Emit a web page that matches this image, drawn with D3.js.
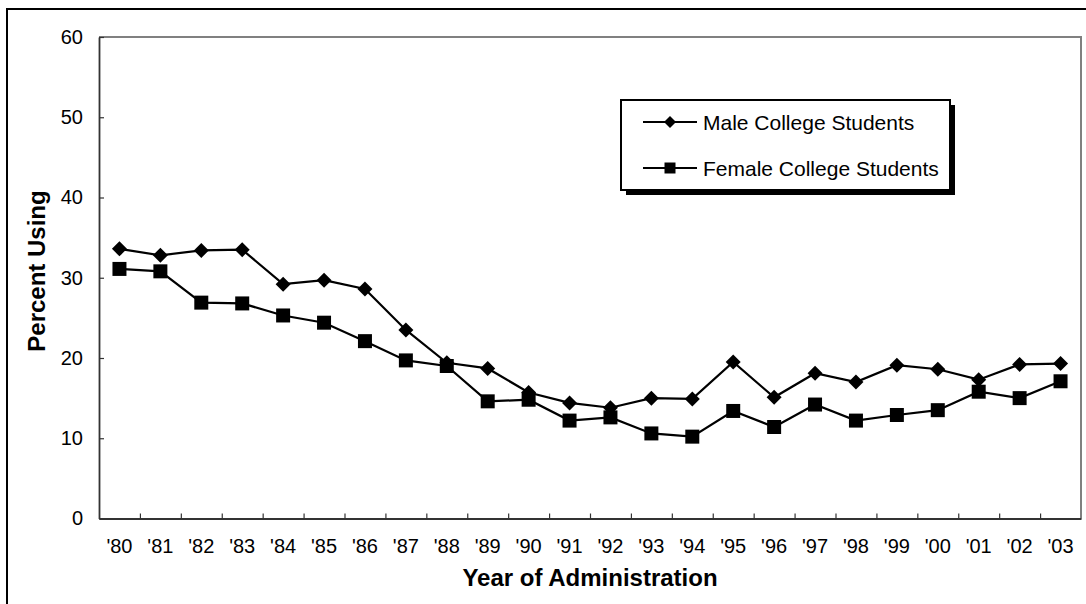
<!DOCTYPE html>
<html>
<head>
<meta charset="utf-8">
<script src="https://cdn.jsdelivr.net/npm/d3@7"></script>
<style>
  html, body { margin: 0; padding: 0; background: #fff; }
  svg { display: block; font-family: "Liberation Sans", Arial, sans-serif; }
</style>
</head>
<body>
<svg id="chart" width="1086" height="604"></svg>
<script>
const years = ["'80","'81","'82","'83","'84","'85","'86","'87","'88","'89","'90","'91","'92","'93","'94","'95","'96","'97","'98","'99","'00","'01","'02","'03"];
const maleValues = [33.6,32.8,33.4,33.5,29.2,29.7,28.6,23.5,19.4,18.7,15.7,14.4,13.8,15.0,14.9,19.5,15.1,18.1,17.0,19.1,18.6,17.3,19.2,19.3];
const femaleValues = [31.1,30.8,26.9,26.8,25.3,24.4,22.1,19.7,19.0,14.6,14.8,12.2,12.6,10.6,10.2,13.4,11.4,14.2,12.2,12.9,13.5,15.8,15.0,17.1];
const yTicks = [0,10,20,30,40,50,60];
const seriesNames = ["Male College Students","Female College Students"];
const xTitle = "Year of Administration";
const yTitle = "Percent Using";

const svg = d3.select("#chart");
const L = 99, R = 1081, T = 37, B = 518.5;

// outer frame
svg.append("rect").attr("x", 7).attr("y", 9).attr("width", 1100).attr("height", 620)
  .attr("fill", "none").attr("stroke", "#000").attr("stroke-width", 2);

const x = d3.scaleBand().domain(years).range([L, R]).padding(0);
const xb = d3.scaleLinear().domain([0, years.length]).range([L, R]);
const y = d3.scaleLinear().domain([0, 60]).range([B, T]);

// plot frame top/right (grey)
svg.append("path")
  .attr("d", `M${L},${T}H${R}V${B}`)
  .attr("fill", "none").attr("stroke", "#808080").attr("stroke-width", 2);

// Y axis
const yAxis = svg.append("g").attr("transform", `translate(${L},0)`)
  .call(d3.axisLeft(y).tickValues(yTicks).tickSizeInner(-5).tickSizeOuter(0).tickPadding(16));
yAxis.select(".domain").attr("stroke", "#333").attr("stroke-width", 1.8);
yAxis.selectAll(".tick line").attr("stroke", "#333").attr("stroke-width", 1.2);
yAxis.selectAll(".tick text").attr("font-size", 20).attr("fill", "#000")
  .attr("font-family", "Liberation Sans, Arial, sans-serif");

// X axis boundary ticks
const xTickAxis = svg.append("g").attr("transform", `translate(0,${B})`)
  .call(d3.axisBottom(xb).tickValues(d3.range(1, years.length)).tickFormat("").tickSizeInner(-5).tickSizeOuter(0));
xTickAxis.select(".domain").attr("stroke", "#333").attr("stroke-width", 1.8);
xTickAxis.selectAll(".tick line").attr("stroke", "#333").attr("stroke-width", 1.2);

// X axis labels
const xAxis = svg.append("g").attr("transform", `translate(0,${B})`)
  .call(d3.axisBottom(x).tickSize(0).tickPadding(20));
xAxis.select(".domain").remove();
xAxis.selectAll(".tick text").attr("font-size", 20).attr("fill", "#000")
  .attr("font-family", "Liberation Sans, Arial, sans-serif");

// Titles
svg.append("text").attr("x", (L + R) / 2).attr("y", 586).attr("text-anchor", "middle")
  .attr("font-size", 24).attr("font-weight", "bold").text(xTitle);
svg.append("text").attr("transform", `translate(45,271) rotate(-90)`)
  .attr("text-anchor", "middle").attr("font-size", 24).attr("font-weight", "bold").text(yTitle);

// lines
const line = d3.line().x((d, i) => x(years[i]) + x.bandwidth() / 2).y(d => y(d));
const diamond = s => `M0,${-s}L${s},0L0,${s}L${-s},0Z`;
const square = s => `M${-s},${-s}H${s}V${s}H${-s}Z`;

const series = [
  { name: seriesNames[0], values: maleValues, shape: diamond, size: 7.5 },
  { name: seriesNames[1], values: femaleValues, shape: square, size: 7 }
];

series.forEach(s => {
  svg.append("path").datum(s.values).attr("d", line)
    .attr("fill", "none").attr("stroke", "#000").attr("stroke-width", 2.2);
  svg.append("g").selectAll("path").data(s.values).join("path")
    .attr("transform", (d, i) => `translate(${x(years[i]) + x.bandwidth() / 2},${y(d)})`)
    .attr("d", s.shape(s.size)).attr("fill", "#000");
});

// Legend
const lg = svg.append("g");
lg.append("rect").attr("x", 626).attr("y", 105).attr("width", 329).attr("height", 90).attr("fill", "#000");
lg.append("rect").attr("x", 621).attr("y", 100).attr("width", 329).attr("height", 90)
  .attr("fill", "#fff").attr("stroke", "#000").attr("stroke-width", 2);
series.forEach((s, i) => {
  const ly = 122 + i * 46;
  lg.append("line").attr("x1", 643).attr("x2", 697).attr("y1", ly).attr("y2", ly)
    .attr("stroke", "#000").attr("stroke-width", 2.2);
  lg.append("path").attr("transform", `translate(670,${ly})`).attr("d", s.shape(i === 0 ? 6 : 5.5)).attr("fill", "#000");
  lg.append("text").attr("x", 703).attr("y", ly + 7.5).attr("font-size", 21).attr("fill", "#000").text(s.name);
});
</script>
</body>
</html>
